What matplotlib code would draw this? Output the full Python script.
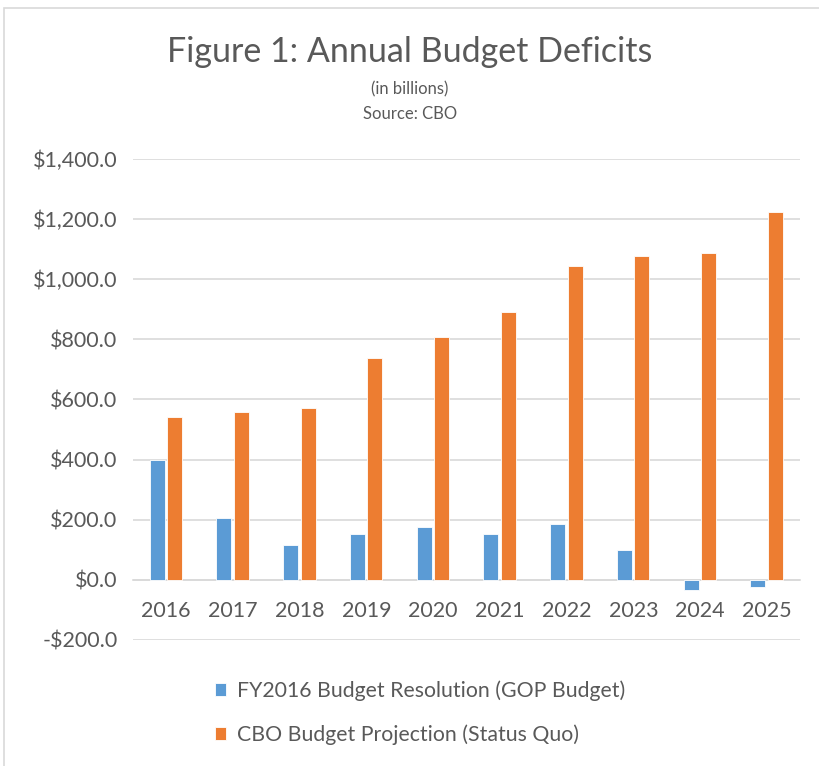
import numpy as np
import matplotlib.pyplot as plt
from matplotlib.ticker import FuncFormatter, MultipleLocator
from matplotlib.patches import Rectangle

plt.rcParams['font.family'] = ['Lato', 'DejaVu Sans']

# data (billions)
years = ['2016', '2017', '2018', '2019', '2020', '2021', '2022', '2023', '2024', '2025']
gop_budget = [399, 205, 115, 151, 175, 152, 185, 98, -33, -24]
cbo_projection = [542, 559, 571, 738, 809, 891, 1044, 1076, 1088, 1225]

blue = '#5B9BD5'
orange = '#ED7D31'
txt = '#595959'
grid = '#D9D9D9'

fig = plt.figure(figsize=(8.2, 7.66), dpi=100)
ax = fig.add_axes([0.162, 0.1645, 0.814, 0.628])

x = np.arange(len(years))
w = 0.225
ax.bar(x - w / 2 - 0.025, gop_budget, w, color=blue, edgecolor='white', linewidth=0.6,
       label='FY2016 Budget Resolution (GOP Budget)', zorder=3)
ax.bar(x + w / 2 + 0.015, cbo_projection, w, color=orange, edgecolor='white', linewidth=0.6,
       label='CBO Budget Projection (Status Quo)', zorder=3)

ax.set_xlim(-0.5, len(years) - 0.5)
ax.set_ylim(-200, 1400)
ax.yaxis.set_major_locator(MultipleLocator(200))
ax.yaxis.set_major_formatter(FuncFormatter(
    lambda v, p: ('-$' if v < 0 else '$') + f'{abs(v):,.1f}'))
ax.set_xticks(x)
ax.set_xticklabels(years)

ax.grid(axis='y', color=grid, linewidth=1.2, zorder=0)
for s in ['top', 'right', 'left']:
    ax.spines[s].set_visible(False)
ax.spines['bottom'].set_position(('data', 0))
ax.spines['bottom'].set_color(grid)
ax.spines['bottom'].set_linewidth(1.2)
ax.tick_params(axis='x', length=0, pad=15, labelsize=15.5, colors=txt)
ax.tick_params(axis='y', length=0, pad=11, labelsize=15.5, colors=txt)

fig.text(0.5, 1 - 52 / 766, 'Figure 1: Annual Budget Deficits', ha='center', va='center',
         fontsize=24.5, color=txt)
fig.text(0.5, 1 - 89 / 766, '(in billions)', ha='center', va='center', fontsize=12, color=txt)
fig.text(0.5, 1 - 114 / 766, 'Source: CBO', ha='center', va='center', fontsize=12, color=txt)

fig.legend(loc='center', bbox_to_anchor=(0.512, 1 - 713 / 766), frameon=False, ncol=1,
           fontsize=15.3, labelcolor=txt, handlelength=0.55, handleheight=0.55,
           handletextpad=0.5, labelspacing=1.1)

# chart border
fig.patches.append(Rectangle((4 / 820, -0.01), 1.02, 1 - 8 / 766 + 0.01, transform=fig.transFigure,
                             fill=False, edgecolor=grid, linewidth=1.2))

fig.savefig('out.png', dpi=100)
